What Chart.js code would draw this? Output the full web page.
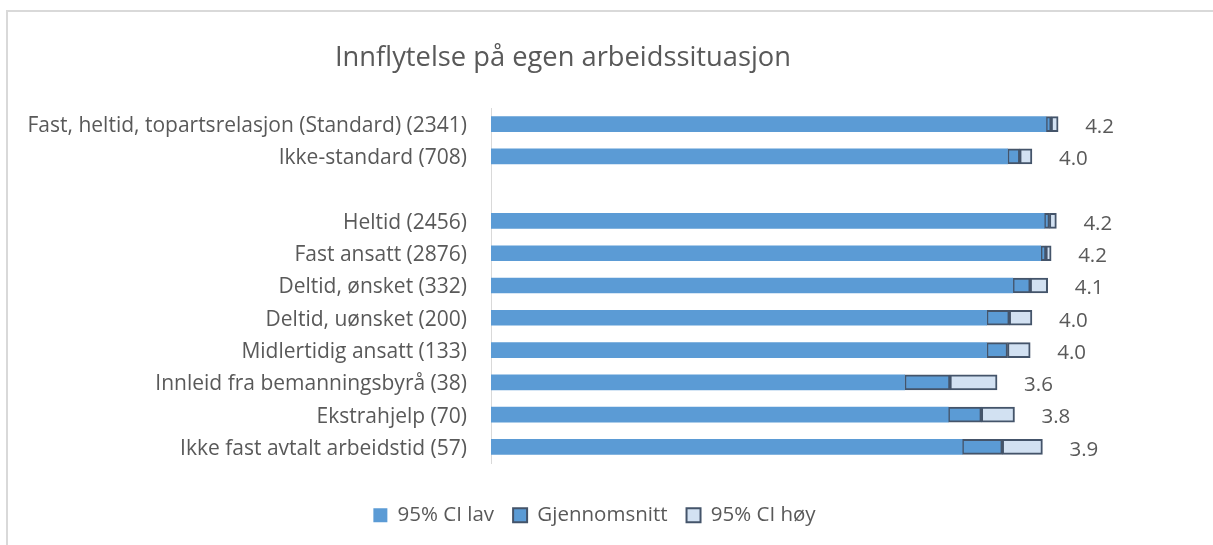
<!DOCTYPE html>
<html>
<head>
<meta charset="utf-8">
<script src="https://cdn.jsdelivr.net/npm/chart.js@4.4.1/dist/chart.umd.min.js"></script>
<style>
html,body{margin:0;padding:0;background:#fff;overflow:hidden;}
#wrap{position:relative;width:1213px;height:545px;}
#frame{position:absolute;left:6px;top:10px;width:1400px;height:700px;border-left:2px solid #d9d9d9;border-top:2px solid #d9d9d9;pointer-events:none;}
canvas{position:absolute;left:0;top:0;}
</style>
</head>
<body>
<div id="wrap"><div id="frame"></div><canvas id="c" width="1213" height="545"></canvas></div>
<script>
const chartTitle = 'Innflytelse på egen arbeidssituasjon';
const categories = [
  'Fast, heltid, topartsrelasjon (Standard) (2341)',
  'Ikke-standard (708)',
  '',
  'Heltid (2456)',
  'Fast ansatt (2876)',
  'Deltid, ønsket (332)',
  'Deltid, uønsket (200)',
  'Midlertidig ansatt (133)',
  'Innleid fra bemanningsbyrå (38)',
  'Ekstrahjelp (70)',
  'Ikke fast avtalt arbeidstid (57)'
];
const ciLow  = [4.18, 3.96, null, 4.17, 4.15, 3.99, 3.84, 3.84, 3.37, 3.62, 3.70];
const mean   = [4.21, 4.03, null, 4.20, 4.18, 4.09, 3.97, 3.96, 3.63, 3.81, 3.93];
const ciHigh = [4.25, 4.10, null, 4.24, 4.21, 4.19, 4.10, 4.09, 3.90, 4.00, 4.16];
const seriesNames = ['95% CI lav', 'Gjennomsnitt', '95% CI høy'];

const segMean = mean.map((v, i) => v == null ? null : v - ciLow[i]);
const segHigh = ciHigh.map((v, i) => v == null ? null : v - mean[i]);

const FONT = '"Open Sans", sans-serif';
const TEXT = '#595959';
const EDGE = '#44546A';

const titlePlugin = {
  id: 'titleText',
  afterDraw(chart) {
    const ctx = chart.ctx;
    ctx.save();
    ctx.font = '27.3px ' + FONT;
    ctx.fillStyle = TEXT;
    ctx.textAlign = 'center';
    ctx.textBaseline = 'middle';
    ctx.fillText(chartTitle, 563, 58);
    ctx.restore();
  }
};

const valueLabels = {
  id: 'valueLabels',
  afterDatasetsDraw(chart) {
    const ctx = chart.ctx;
    const meta = chart.getDatasetMeta(2);
    ctx.save();
    ctx.font = '20.5px ' + FONT;
    ctx.fillStyle = TEXT;
    ctx.textAlign = 'left';
    ctx.textBaseline = 'middle';
    meta.data.forEach((el, i) => {
      if (mean[i] == null) return;
      ctx.fillText(mean[i].toFixed(1), el.x + 27, el.y + 3);
    });
    ctx.restore();
  }
};

new Chart(document.getElementById('c'), {
  type: 'bar',
  data: {
    labels: categories,
    datasets: [
      { label: seriesNames[0], data: ciLow, backgroundColor: '#5B9BD5', borderWidth: 0, barThickness: 15 },
      { label: seriesNames[1], data: segMean, backgroundColor: '#5B9BD5', borderColor: EDGE, borderWidth: 2, borderSkipped: false, barThickness: 15 },
      { label: seriesNames[2], data: segHigh, backgroundColor: '#D2E1F2', borderColor: EDGE, borderWidth: 2, borderSkipped: false, barThickness: 15 }
    ]
  },
  options: {
    responsive: false,
    animation: false,
    indexAxis: 'y',
    layout: { padding: { left: 0, right: 24, top: 108, bottom: 9.5 } },
    scales: {
      x: {
        stacked: true, min: 1, max: 5,
        ticks: { display: false },
        grid: { display: false },
        border: { display: false },
        afterFit(s) { s.height = 23; }
      },
      y: {
        stacked: true,
        grid: { display: false },
        border: { display: true, color: '#d9d9d9', width: 1 },
        ticks: { color: TEXT, font: { family: FONT, size: 21 }, padding: 16, labelOffset: 2, autoSkip: false },
        afterFit(s) { s.width = 491; }
      }
    },
    plugins: {
      title: { display: false },
      tooltip: { enabled: false },
      legend: {
        position: 'bottom',
        labels: { boxWidth: 14, boxHeight: 14, padding: 19, color: TEXT, font: { family: FONT, size: 20.5 } }
      }
    }
  },
  plugins: [titlePlugin, valueLabels]
});
</script>
</body>
</html>
